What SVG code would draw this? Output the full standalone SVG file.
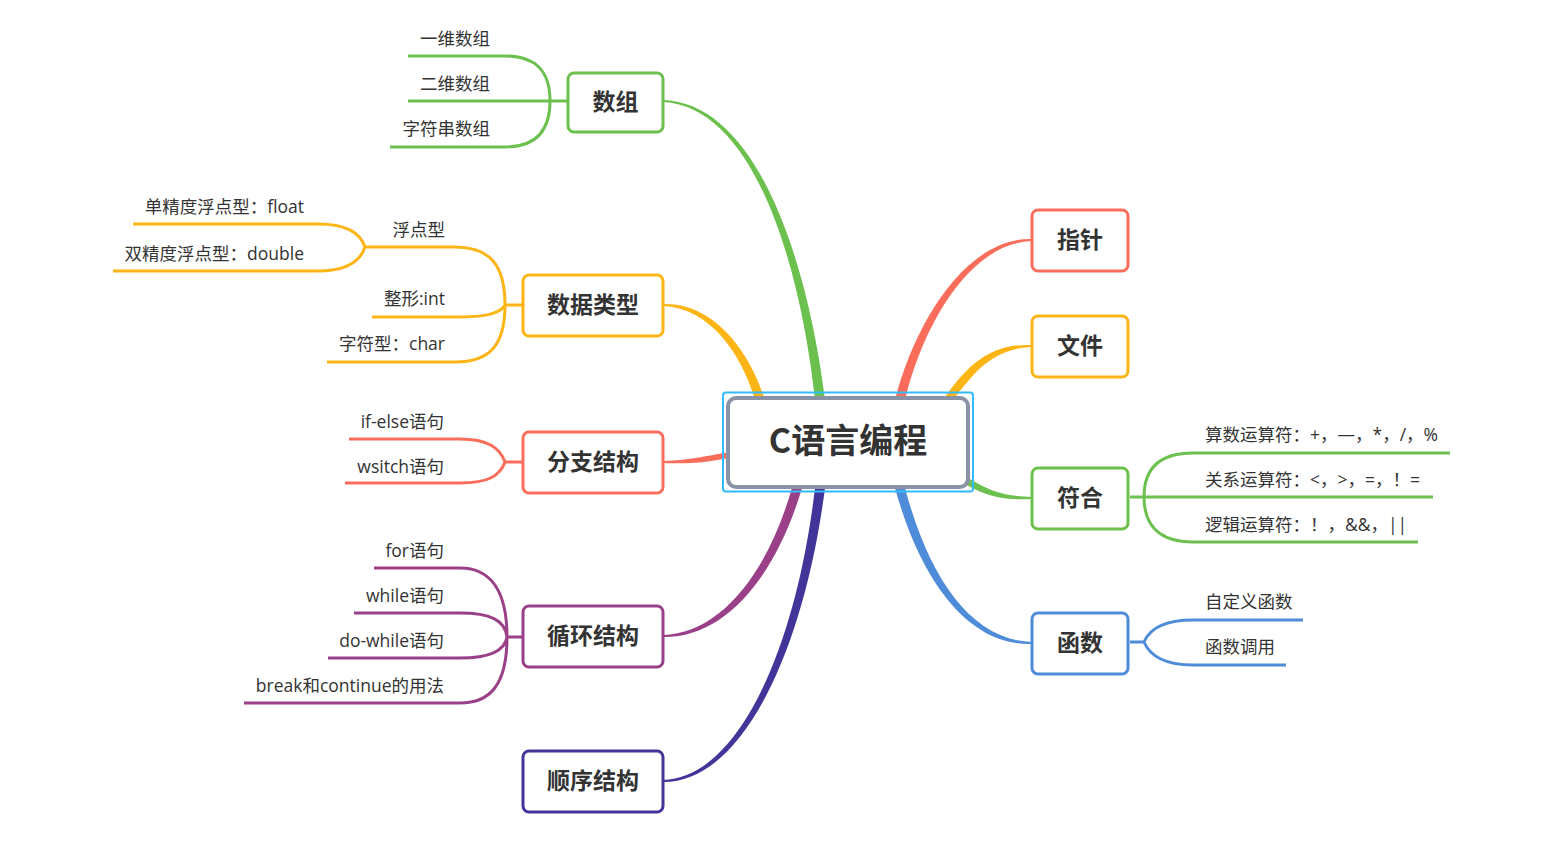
<svg xmlns="http://www.w3.org/2000/svg" width="1558" height="843" viewBox="0 0 1558 843">
<style>
.sub{font-family:"Open Sans","Noto Sans CJK SC",sans-serif;font-size:17.5px;fill:#333}
.end{text-anchor:end}
.nt{font-family:"Noto Sans CJK SC","Open Sans",sans-serif;font-size:23px;font-weight:bold;fill:#333;text-anchor:middle}
.node{fill:#fff;stroke-width:3}
.ln{fill:none;stroke-width:3}
.g{stroke:#6CC04E}.o{stroke:#FDB515}.r{stroke:#FB6D5B}.p{stroke:#9A4089}.i{stroke:#41359A}.b{stroke:#4E8BD8}
</style>
<rect width="1558" height="843" fill="#fff"/>
<g id="connectors">
  <path d="M825,400 C809,270 760,103 663,100 L663,102 C756,107 801,270 815,400 Z" fill="#6CC04E"/>
  <path d="M765,400 C749,348 711,302 663,304 L663,306 C709,308 741,352 755,400 Z" fill="#FDB515"/>
  <path d="M730,452 C700,457 690,460 663,461 L663,463 C690,464 700,463 730,458 Z" fill="#FB6D5B"/>
  <path d="M802,488 C774,582 722,638 663,637 L663,635 C718,633 766,578 792,488 Z" fill="#9A4089"/>
  <path d="M825,488 C804,651 742,783 663,782 L663,780 C738,778 796,649 815,488 Z" fill="#41359A"/>
  <path d="M895,400 C916,318 969,237 1032,239 L1032,241 C971,243 924,322 905,400 Z" fill="#FB6D5B"/>
  <path d="M943,400 C966,367 989,343 1032,345 L1032,347 C991,349 974,373 953,400 Z" fill="#FDB515"/>
  <path d="M965,476 C990,492 1005,496 1032,497 L1032,499 C1005,500 990,498 965,484 Z" fill="#6CC04E"/>
  <path d="M905,488 C929,578 971,640 1032,642 L1032,644 C969,646 921,582 895,488 Z" fill="#4E8BD8"/>
  <path class="ln g" d="M568,101 H550 M550,101 C550,70 535,56 505,56 H408 M550,101 H408 M550,101 C550,132 535,147 505,147 H390"/>
  <path class="ln o" d="M523,305 H505 M505,305 C505,265 490,247 455,247 H365 M505,305 C500,314 485,317 455,317 H372 M505,305 C505,345 490,362 455,362 H327 M365,247 C360,232 345,224 318,224 H133 M365,247 C360,262 345,271 318,271 H113"/>
  <path class="ln r" d="M523,462 H505 M505,462 C500,448 488,439 460,439 H349 M505,462 C500,476 488,483 460,483 H345"/>
  <path class="ln p" d="M523,637 H507 M507,637 C507,590 490,568 460,568 H374 M507,637 C505,620 490,613 460,613 H354 M507,637 C505,650 490,658 460,658 H328 M507,637 C507,685 490,703 460,703 H244"/>
  <path class="ln g" d="M1130,497 H1144 M1144,497 C1144,468 1160,453 1193,453 H1450 M1144,497 H1433 M1144,497 C1144,526 1160,542 1193,542 H1418"/>
  <path class="ln b" d="M1130,642 H1144 M1144,642 C1150,628 1165,620 1193,620 H1303 M1144,642 C1150,656 1165,665 1193,665 H1286"/>
</g>
<g id="root">
  <rect x="723" y="392.5" width="250" height="99" rx="3" fill="none" stroke="#33BBFF" stroke-width="2"/>
  <rect x="728" y="398" width="240" height="89" rx="8" fill="#fff" stroke="#8A93A6" stroke-width="4"/>
  <text x="848" y="453" font-family="Noto Sans CJK SC,Open Sans,sans-serif" font-size="34" font-weight="bold" fill="#333" text-anchor="middle">C语言编程</text>
</g>
<g id="n-shuzu">
  <rect class="node g" x="568" y="73" width="95" height="59" rx="6"/>
  <text class="nt" x="615.5" y="110">数组</text>
  <text class="sub end" x="490" y="45">一维数组</text>
  <text class="sub end" x="490" y="90">二维数组</text>
  <text class="sub end" x="490" y="135">字符串数组</text>
</g>
<g id="n-shujuleixing">
  <rect class="node o" x="523" y="275" width="140" height="61" rx="6"/>
  <text class="nt" x="593" y="313">数据类型</text>
  <text class="sub end" x="445" y="236">浮点型</text>
  <text class="sub end" x="304" y="213">单精度浮点型：float</text>
  <text class="sub end" x="304" y="260">双精度浮点型：double</text>
  <text class="sub end" x="445" y="305">整形:int</text>
  <text class="sub end" x="445" y="350">字符型：char</text>
</g>
<g id="n-fenzhi">
  <rect class="node r" x="523" y="432" width="140" height="61" rx="6"/>
  <text class="nt" x="593" y="470">分支结构</text>
  <text class="sub end" x="444" y="428">if-else语句</text>
  <text class="sub end" x="444" y="473">wsitch语句</text>
</g>
<g id="n-xunhuan">
  <rect class="node p" x="523" y="606" width="140" height="61" rx="6"/>
  <text class="nt" x="593" y="644">循环结构</text>
  <text class="sub end" x="444" y="557">for语句</text>
  <text class="sub end" x="444" y="602">while语句</text>
  <text class="sub end" x="444" y="647">do-while语句</text>
  <text class="sub end" x="444" y="692">break和continue的用法</text>
</g>
<g id="n-shunxu">
  <rect class="node i" x="523" y="751" width="140" height="61" rx="6"/>
  <text class="nt" x="593" y="789">顺序结构</text>
</g>
<g id="n-zhizhen">
  <rect class="node r" x="1032" y="210" width="96" height="61" rx="6"/>
  <text class="nt" x="1080" y="248">指针</text>
</g>
<g id="n-wenjian">
  <rect class="node o" x="1032" y="316" width="96" height="61" rx="6"/>
  <text class="nt" x="1080" y="354">文件</text>
</g>
<g id="n-fuhe">
  <rect class="node g" x="1032" y="468" width="96" height="61" rx="6"/>
  <text class="nt" x="1080" y="506">符合</text>
  <text class="sub" x="1205" y="441">算数运算符：+，—，*，/，%</text>
  <text class="sub" x="1205" y="486">关系运算符：&lt;，&gt;，=，！=</text>
  <text class="sub" x="1205" y="531">逻辑运算符：！，&amp;&amp;，||</text>
</g>
<g id="n-hanshu">
  <rect class="node b" x="1032" y="613" width="96" height="61" rx="6"/>
  <text class="nt" x="1080" y="651">函数</text>
  <text class="sub" x="1205" y="608">自定义函数</text>
  <text class="sub" x="1205" y="653">函数调用</text>
</g>
</svg>
